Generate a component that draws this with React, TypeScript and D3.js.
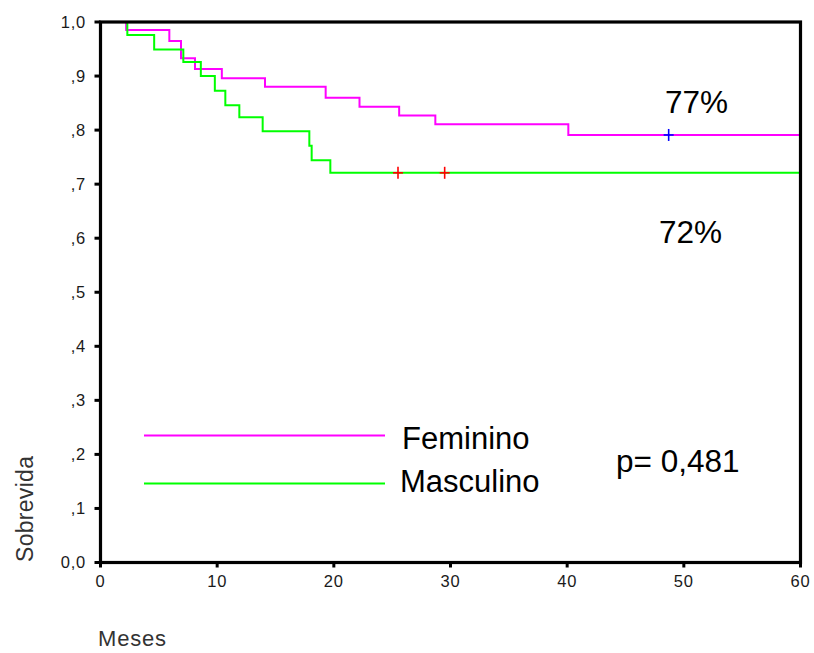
import React from "react";
import * as d3 from "d3";

const femTimes = [0, 2.2, 5.9, 6.9, 8.1, 10.4, 14.1, 19.3, 22.2, 25.6, 28.7, 40.1, 60];
const femSurv = [1, 0.985, 0.965, 0.933, 0.913, 0.896, 0.88, 0.86, 0.843, 0.827, 0.811, 0.791, 0.791];
const femCensor = [48.7];

const mascTimes = [0, 2.3, 4.6, 7.1, 8.6, 9.8, 10.7, 11.9, 13.9, 17.9, 18.1, 19.7, 60];
const mascSurv = [1, 0.976, 0.949, 0.926, 0.9, 0.873, 0.846, 0.824, 0.798, 0.771, 0.744, 0.721, 0.721];
const mascCensor = [25.5, 29.5];

const xTicks = [0, 10, 20, 30, 40, 50, 60];
const yTicks = [0, 0.1, 0.2, 0.3, 0.4, 0.5, 0.6, 0.7, 0.8, 0.9, 1.0];
const yTickLabels = ["0,0", ",1", ",2", ",3", ",4", ",5", ",6", ",7", ",8", ",9", "1,0"];

const legendLabels = ["Feminino", "Masculino"];
const annotations = ["77%", "72%", "p= 0,481"];

const W = 814;
const H = 653;
const L = 100.5, R = 800.5, T = 22, B = 562.5;

export default function App() {
  const x = d3.scaleLinear().domain([0, 60]).range([L, R]);
  const y = d3.scaleLinear().domain([0, 1]).range([B, T]);

  const line = d3
    .line<[number, number]>()
    .x((d) => x(d[0]))
    .y((d) => y(d[1]))
    .curve(d3.curveStepAfter);

  const femPts: [number, number][] = femTimes.map((t, i) => [t, femSurv[i]]);
  const mascPts: [number, number][] = mascTimes.map((t, i) => [t, mascSurv[i]]);

  const survAt = (times: number[], surv: number[], t: number) => {
    let v = surv[0];
    for (let i = 0; i < times.length; i++) if (times[i] <= t) v = surv[i];
    return v;
  };

  const font = "Arial, 'Liberation Sans', sans-serif";
  const magenta = "#ff00ff";
  const green = "#00ff00";

  const cross = (cx: number, cy: number, color: string, key: string) => (
    <g key={key} stroke={color} strokeWidth={1.6}>
      <line x1={cx - 5} x2={cx + 5} y1={cy} y2={cy} />
      <line x1={cx} x2={cx} y1={cy - 6} y2={cy + 6} />
    </g>
  );

  return (
    <svg
      width={W}
      height={H}
      style={{ position: "absolute", left: 0, top: 0, background: "#fff" }}
    >
      <rect x={0} y={0} width={W} height={H} fill="#fff" />

      {/* curves */}
      <path d={line(femPts) || ""} fill="none" stroke={magenta} strokeWidth={2} />
      <path d={line(mascPts) || ""} fill="none" stroke={green} strokeWidth={2} />
      {femCensor.map((t, i) => cross(x(t), y(survAt(femTimes, femSurv, t)), "#0000ff", "f" + i))}
      {mascCensor.map((t, i) => cross(x(t), y(survAt(mascTimes, mascSurv, t)), "#ff0000", "m" + i))}

      {/* frame */}
      <rect x={L} y={T} width={R - L} height={B - T} fill="none" stroke="#000" strokeWidth={3.2} />

      {/* y ticks */}
      {yTicks.map((v, i) => (
        <g key={"yt" + i}>
          <line x1={L - 6} x2={L} y1={y(v)} y2={y(v)} stroke="#000" strokeWidth={3} />
          <text
            x={86}
            y={y(v)}
            dy="0.36em"
            textAnchor="end"
            fontFamily={font}
            fontSize={16.5}
            letterSpacing={0.8}
            fill="#1a1a1a"
          >
            {yTickLabels[i]}
          </text>
        </g>
      ))}

      {/* x ticks */}
      {xTicks.map((v, i) => (
        <g key={"xt" + i}>
          <line x1={x(v)} x2={x(v)} y1={B} y2={B + 5} stroke="#000" strokeWidth={3} />
          <text
            x={x(v)}
            y={587}
            textAnchor="middle"
            fontFamily={font}
            fontSize={16.5}
            letterSpacing={0.8}
            fill="#1a1a1a"
          >
            {v}
          </text>
        </g>
      ))}

      {/* axis titles */}
      <text x={98} y={646} fontFamily={font} fontSize={22} letterSpacing={0.8} fill="#333">
        Meses
      </text>
      <text
        transform="translate(33,562) rotate(-90)"
        fontFamily={font}
        fontSize={23}
        letterSpacing={0.3}
        fill="#333"
      >
        Sobrevida
      </text>

      {/* legend */}
      <line x1={144} x2={385} y1={435.5} y2={435.5} stroke={magenta} strokeWidth={2} />
      <line x1={144} x2={385} y1={483.5} y2={483.5} stroke={green} strokeWidth={2} />
      <text x={402} y={449} fontFamily={font} fontSize={31} fill="#000">
        {legendLabels[0]}
      </text>
      <text x={400} y={492} fontFamily={font} fontSize={31} fill="#000">
        {legendLabels[1]}
      </text>

      {/* annotations */}
      <text x={665} y={112.5} fontFamily={font} fontSize={31.5} fill="#000">
        {annotations[0]}
      </text>
      <text x={659} y={243} fontFamily={font} fontSize={31.5} fill="#000">
        {annotations[1]}
      </text>
      <text x={616} y={472} fontFamily={font} fontSize={31.5} fill="#000">
        {annotations[2]}
      </text>
    </svg>
  );
}
